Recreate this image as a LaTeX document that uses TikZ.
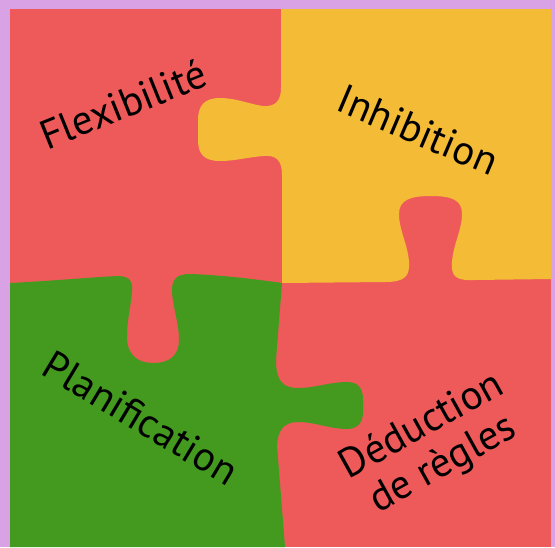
\documentclass[tikz,border=0pt]{standalone}
\usepackage{fontspec}
\setmainfont{PT Sans}
\definecolor{bgl}{HTML}{D8A2E4}
\definecolor{pred}{HTML}{EE5A5A}
\definecolor{pyel}{HTML}{F4BB36}
\definecolor{pgrn}{HTML}{439A1F}
\tikzset{lbl/.style={font=\fontsize{41}{44}\selectfont, text=black, inner sep=0pt, align=center}}
\begin{document}
\begin{tikzpicture}[x=1pt,y=-1pt]
\useasboundingbox (0,0) rectangle (555,547);
\fill[bgl] (0,0) rectangle (555,547);
% red base (top-left and bottom-right pieces)
\fill[pred] (10,9) rectangle (551,547);
% yellow piece (top right)
\fill[pyel] (281,9) -- (551,9) -- (551,279) -- (475,280)
  .. controls (455,281) and (451,276) .. (452,262)
  .. controls (453,245) and (462,230) .. (462,214)
  .. controls (462,200) and (452,196) .. (431,196)
  .. controls (410,196) and (399,200) .. (399,214)
  .. controls (399,230) and (408,245) .. (409,262)
  .. controls (410,276) and (405,282) .. (385,282)
  -- (282,283) -- (282,175)
  .. controls (282,160) and (276,155) .. (264,156)
  .. controls (248,157) and (236,161) .. (220,161)
  .. controls (205,161) and (198,155) .. (198,140)
  -- (198,120)
  .. controls (198,105) and (205,98) .. (220,98)
  .. controls (236,98) and (249,104) .. (263,106)
  .. controls (276,107) and (281,100) .. (281,88)
  -- cycle;
% green piece (bottom left)
\fill[pgrn] (10,283) .. controls (50,281) and (95,277) .. (118,276)
  .. controls (130,276) and (133,282) .. (132,292)
  .. controls (131,305) and (127,320) .. (127,337)
  .. controls (127,355) and (138,363) .. (153,363)
  .. controls (170,363) and (179,355) .. (179,340)
  .. controls (179,322) and (172,305) .. (172,290)
  .. controls (172,279) and (177,274) .. (190,274)
  .. controls (220,275) and (255,279) .. (282,283)
  -- (276,360)
  .. controls (276,380) and (282,388) .. (298,388)
  .. controls (315,388) and (330,382) .. (347,382)
  .. controls (358,382) and (363,388) .. (363,400)
  -- (363,412)
  .. controls (363,424) and (356,429) .. (347,429)
  .. controls (330,429) and (315,422) .. (298,422)
  .. controls (284,422) and (278,430) .. (277,445)
  -- (285,547) -- (10,547) -- cycle;
% labels
\node[lbl, rotate=22] (flex) at (123,104) {Flexibilité};
\node[lbl, rotate=-23] (inhib) at (418,130) {Inhibition};
\node[lbl, rotate=-31] (plan) at (141,418) {Planification};
\node[lbl, rotate=29] (ded) at (433,446) {Déduction\\de règles};
\end{tikzpicture}
\end{document}
